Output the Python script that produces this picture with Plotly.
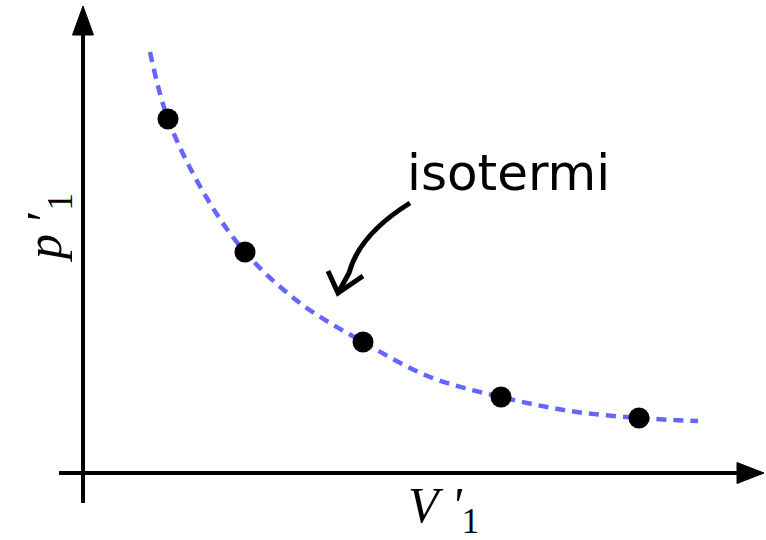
import plotly.graph_objects as go

# Measured states (volume, pressure) lying on one isotherm
volume = [0.85, 1.62, 2.80, 4.18, 5.56]
pressure = [3.54, 2.21, 1.31, 0.76, 0.55]

# Isotherm curve p(V) traced through the states
iso_volume = [0.67, 0.85, 1.22, 1.62, 2.17, 2.80, 3.47, 4.18, 4.87, 5.56, 6.15]
iso_pressure = [4.21, 3.54, 2.78, 2.21, 1.70, 1.31, 0.96, 0.76, 0.62, 0.55, 0.52]

x_label = "<i>V</i> <i>'</i><sub>1</sub>"
y_label = "<i>p</i> ′<sub>1</sub>"
curve_label = "isotermi"

fig = go.Figure()

fig.add_trace(go.Scatter(
    x=iso_volume, y=iso_pressure, mode="lines",
    line=dict(color="#6666ff", width=4.5, dash="10px,7px", shape="spline", smoothing=1.0),
    hoverinfo="skip", showlegend=False,
))
fig.add_trace(go.Scatter(
    x=volume, y=pressure, mode="markers",
    marker=dict(color="black", size=21, line=dict(width=0)),
    showlegend=False,
))

axis_line = dict(color="black", width=4)
shapes = [
    # vertical axis with arrow head
    dict(type="line", xref="x", yref="y", x0=0, x1=0, y0=-0.30, y1=4.40, line=axis_line),
    dict(type="path", xref="x", yref="y", path="M -0.105,4.38 L 0,4.67 L 0.105,4.38 Z",
         fillcolor="black", line=dict(color="black", width=1)),
    # horizontal axis with arrow head
    dict(type="line", xref="x", yref="y", x0=-0.24, x1=6.56, y0=0, y1=0, line=axis_line),
    dict(type="path", xref="x", yref="y", path="M 6.54,0.105 L 6.81,0 L 6.54,-0.105 Z",
         fillcolor="black", line=dict(color="black", width=1)),
    # hand-drawn pointer to the isotherm
    dict(type="path", xref="x", yref="y",
         path="M 3.27,2.70 C 2.98,2.52 2.74,2.30 2.66,2.00 L 2.55,1.80",
         line=dict(color="black", width=5)),
    dict(type="path", xref="x", yref="y",
         path="M 2.45,2.02 L 2.55,1.80 L 2.80,1.97",
         line=dict(color="black", width=5)),
]

annotations = [
    dict(x=3.60, y=-0.36, xref="x", yref="y", text=x_label, showarrow=False,
         font=dict(family="Liberation Serif", size=50, color="black")),
    dict(x=-0.35, y=2.45, xref="x", yref="y", text=y_label, showarrow=False, textangle=-90,
         font=dict(family="Liberation Serif", size=50, color="black")),
    dict(x=4.25, y=3.00, xref="x", yref="y", text=curve_label, showarrow=False,
         font=dict(family="DejaVu Sans", size=50, color="black")),
]

fig.update_layout(
    width=766, height=540,
    margin=dict(l=0, r=0, t=0, b=0),
    paper_bgcolor="white", plot_bgcolor="white",
    xaxis=dict(range=[-0.83, 6.83], visible=False, fixedrange=True),
    yaxis=dict(range=[-0.67, 4.73], visible=False, fixedrange=True),
    shapes=shapes, annotations=annotations,
)

fig.write_html("out.html")
